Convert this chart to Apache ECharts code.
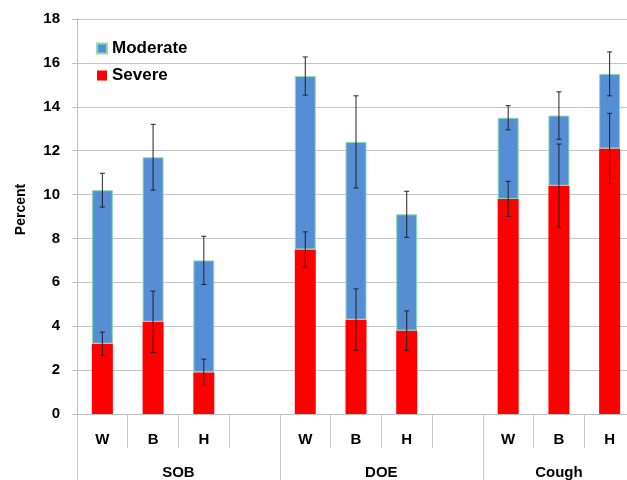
<!DOCTYPE html>
<html>
<head>
<meta charset="utf-8">
<script src="https://cdn.jsdelivr.net/npm/echarts@6/dist/echarts.min.js"></script>
<style>html,body{margin:0;padding:0;background:#fff;overflow:hidden}#c{width:635px;height:480px}</style>
</head>
<body>
<div id="c"></div>
<script>
var categories = ['W','B','H','','W','B','H','','W','B','H'];
var groupNames = ['SOB','DOE','Cough'];
var groupCenters = [2, 6, 9.5];
var groupBounds = [0, 4, 8, 11];
var severe = [3.2, 4.2, 1.9, null, 7.5, 4.3, 3.8, null, 9.8, 10.4, 12.1];
var total = [10.2, 11.7, 7.0, null, 15.4, 12.4, 9.1, null, 13.5, 13.6, 15.5];
var severeErr = [0.53, 1.4, 0.6, null, 0.8, 1.4, 0.9, null, 0.8, 1.9, 1.6];
var totalErr = [0.77, 1.5, 1.1, null, 0.87, 2.1, 1.05, null, 0.55, 1.08, 1.0];
var yTicks = [0, 18, 2];

var moderate = total.map(function(t, i){ return t == null ? null : +(t - severe[i]).toFixed(2); });
var errData = [];
for (var i = 0; i < categories.length; i++) {
  if (severe[i] != null) errData.push([i, severe[i], severeErr[i]]);
  if (total[i] != null) errData.push([i, total[i], totalErr[i]]);
}
var font = '"Liberation Sans", Arial, sans-serif';
var chart = echarts.init(document.getElementById('c'), null, {renderer: 'canvas'});
chart.setOption({
  animation: false,
  grid: {left: 77, top: 19, bottom: 66, right: 0, containLabel: false},
  legend: {
    orient: 'vertical', left: 91, top: 35, itemGap: 10,
    itemWidth: 10, itemHeight: 10, icon: 'rect',
    textStyle: {fontFamily: font, fontWeight: 'bold', fontSize: 17, color: '#000'},
    data: ['Moderate', 'Severe']
  },
  xAxis: [{
    type: 'category', data: categories,
    axisLine: {show: true, lineStyle: {color: '#bfbfbf'}},
    axisTick: {show: true, interval: 0, length: 34, lineStyle: {color: '#c8c8c8'}},
    axisLabel: {interval: 0, margin: 18, fontFamily: font, fontWeight: 'bold', fontSize: 15, color: '#000'}
  }, {
    type: 'value', min: 0, max: 11, position: 'bottom', offset: 0,
    axisLine: {show: false}, splitLine: {show: false},
    axisTick: {show: true, length: 72, customValues: groupBounds, lineStyle: {color: '#c8c8c8'}},
    axisLabel: {show: true, margin: 51, customValues: groupCenters,
      formatter: function(v){ var k = groupCenters.indexOf(v); return k >= 0 ? groupNames[k] : ''; },
      fontFamily: font, fontWeight: 'bold', fontSize: 15, color: '#000'}
  }],
  yAxis: {
    type: 'value', min: yTicks[0], max: yTicks[1], interval: yTicks[2],
    name: 'Percent', nameLocation: 'middle', nameGap: 49, nameRotate: 90,
    nameTextStyle: {fontFamily: font, fontWeight: 'bold', fontSize: 14, color: '#000', padding: [0, 0, 0, 14]},
    axisLine: {show: true, lineStyle: {color: '#bfbfbf'}},
    axisTick: {show: true, inside: false, length: 5, lineStyle: {color: '#bfbfbf'}},
    axisLabel: {margin: 17, fontFamily: font, fontWeight: 'bold', fontSize: 15, color: '#000'},
    splitLine: {lineStyle: {color: '#c4c4c4'}}
  },
  series: [{
    name: 'Severe', type: 'bar', stack: 's', data: severe, barWidth: 21, xAxisIndex: 0,
    itemStyle: {color: '#ff0000'}
  }, {
    name: 'Moderate', type: 'bar', stack: 's', data: moderate, barWidth: 21, xAxisIndex: 0,
    itemStyle: {color: '#558ed5', borderColor: '#8fdcae', borderWidth: 1}
  }, {
    type: 'custom', xAxisIndex: 0, data: errData, z: 10,
    renderItem: function(params, api) {
      var x = api.value(0), v = api.value(1), e = api.value(2);
      var hi = api.coord([x, v + e]), lo = api.coord([x, v - e]);
      var st = {stroke: '#222', lineWidth: 1};
      return {type: 'group', children: [
        {type: 'line', shape: {x1: hi[0], y1: hi[1], x2: lo[0], y2: lo[1]}, style: st},
        {type: 'line', shape: {x1: hi[0]-2.5, y1: hi[1], x2: hi[0]+2.5, y2: hi[1]}, style: st},
        {type: 'line', shape: {x1: lo[0]-2.5, y1: lo[1], x2: lo[0]+2.5, y2: lo[1]}, style: st}
      ]};
    }
  }]
});
</script>
</body>
</html>
